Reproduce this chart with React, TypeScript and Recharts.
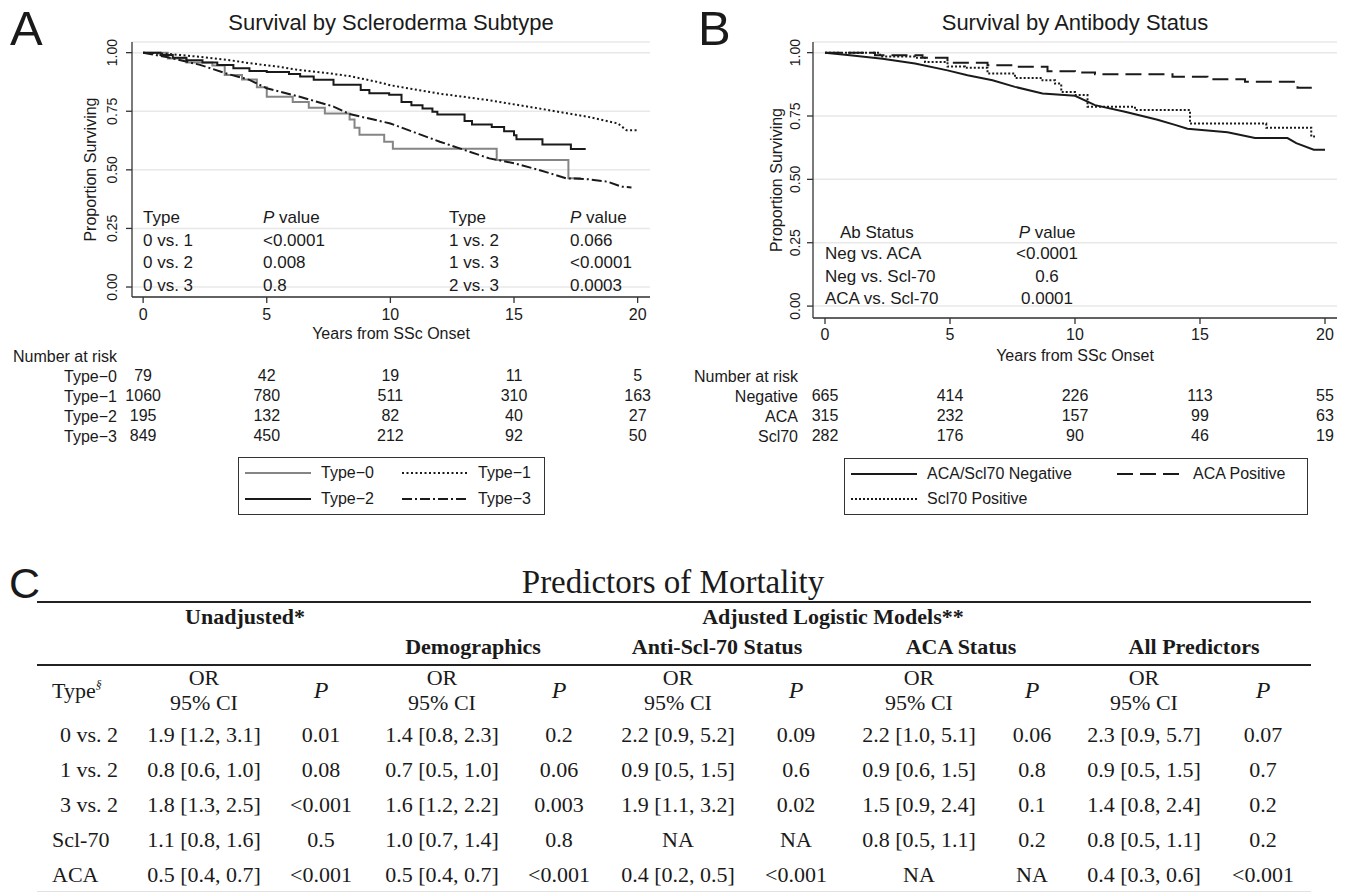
import React from "react";
import { LineChart, Line, XAxis, YAxis, CartesianGrid } from "recharts";

const SANS = '"Liberation Sans", Arial, Helvetica, sans-serif';
const SERIF = '"Liberation Serif", "Times New Roman", Times, serif';
const INK = "#1a1a1a";

// shared axis ticks
const yearTicks = [0, 5, 10, 15, 20];
const survTicks = [0, 0.25, 0.5, 0.75, 1];

// ---- Panel A: survival by scleroderma subtype, [years, proportion surviving]
const type0: [number, number][] = [
  [0, 1], [1.0, 0.975], [1.75, 0.958], [2.8, 0.945], [3.3, 0.905], [4.0, 0.885],
  [4.6, 0.852], [5.0, 0.812], [6.05, 0.79], [6.7, 0.765], [7.35, 0.74], [8.35, 0.715],
  [8.55, 0.68], [8.75, 0.65], [9.75, 0.62], [10.1, 0.59], [14.3, 0.542],
  [17.2, 0.464], [17.7, 0.464],
];
const type1: [number, number][] = [
  [0, 1], [1, 0.995], [2.3, 0.982], [3.5, 0.968], [4.3, 0.955], [5.5, 0.94],
  [6.3, 0.926], [7.5, 0.912], [8.35, 0.9], [9.4, 0.877], [10, 0.861], [12, 0.825],
  [14, 0.797], [16, 0.762], [18, 0.726], [19.2, 0.698], [19.55, 0.669], [19.97, 0.669],
];
const type2: [number, number][] = [
  [0, 1], [0.7, 0.99], [1.2, 0.978], [1.75, 0.968], [2.4, 0.958], [3.0, 0.947],
  [3.65, 0.934], [4.3, 0.922], [5.0, 0.918], [5.9, 0.909], [6.35, 0.898], [6.9, 0.884],
  [7.7, 0.863], [8.8, 0.841], [9.15, 0.827], [9.95, 0.82], [10.45, 0.79], [10.85, 0.776],
  [11.3, 0.762], [11.7, 0.748], [11.9, 0.736], [13.0, 0.708], [13.3, 0.694], [14.1, 0.683],
  [14.6, 0.665], [15.0, 0.648], [15.1, 0.631], [16.15, 0.608], [17.3, 0.589], [17.9, 0.589],
];
const type3: [number, number][] = [
  [0, 1], [1, 0.98], [2.3, 0.948], [3.4, 0.91], [4.3, 0.884], [5, 0.848], [6.3, 0.813],
  [7.7, 0.77], [8.35, 0.738], [10, 0.698], [12, 0.62], [14, 0.549], [15, 0.528],
  [16, 0.5], [17.1, 0.464], [18, 0.46], [18.8, 0.449], [19.35, 0.428], [19.75, 0.425],
];

const riskType0 = [79, 42, 19, 11, 5];
const riskType1 = [1060, 780, 511, 310, 163];
const riskType2 = [195, 132, 82, 40, 27];
const riskType3 = [849, 450, 212, 92, 50];

const compareLeftA = ["0 vs. 1", "0 vs. 2", "0 vs. 3"];
const pLeftA = ["<0.0001", "0.008", "0.8"];
const compareRightA = ["1 vs. 2", "1 vs. 3", "2 vs. 3"];
const pRightA = ["0.066", "<0.0001", "0.0003"];

// ---- Panel B: survival by antibody status
const negative: [number, number][] = [
  [0, 1], [1, 0.99], [2.3, 0.976], [3.6, 0.957], [4.9, 0.93], [5.7, 0.911], [6.7, 0.891],
  [7.6, 0.865], [8.7, 0.839], [10, 0.83], [10.8, 0.793], [12, 0.767], [13.3, 0.735],
  [14, 0.715], [14.5, 0.7], [16.1, 0.686], [17.2, 0.663], [18.5, 0.663], [18.85, 0.643],
  [19.55, 0.617], [20, 0.617],
];
const acaPos: [number, number][] = [
  [0, 1], [2, 0.99], [3.9, 0.98], [4.9, 0.96], [6.5, 0.95], [7.6, 0.944], [8.9, 0.927],
  [10, 0.922], [10.8, 0.915], [13.9, 0.905], [15.3, 0.895], [16.8, 0.885], [18.9, 0.861],
  [19.5, 0.861],
];
const sclPos: [number, number][] = [
  [0, 1], [2.2, 0.985], [3.6, 0.98], [4.0, 0.963], [4.9, 0.945], [5.6, 0.94], [6.5, 0.918],
  [7.6, 0.9], [8.7, 0.891], [9.2, 0.878], [9.45, 0.845], [10.0, 0.833], [10.5, 0.787],
  [12.4, 0.774], [14.6, 0.72], [17.65, 0.704], [19.45, 0.669], [19.6, 0.669],
];

const riskNegative = [665, 414, 226, 113, 55];
const riskAca = [315, 232, 157, 99, 63];
const riskScl = [282, 176, 90, 46, 19];

const compareB = ["Neg vs. ACA", "Neg vs. Scl-70", "ACA vs. Scl-70"];
const pB = ["<0.0001", "0.6", "0.0001"];

// ---- Panel C: predictors of mortality
const rowLabels = ["0 vs. 2", "1 vs. 2", "3 vs. 2", "Scl-70", "ACA"];
const unadjOR = ["1.9 [1.2, 3.1]", "0.8 [0.6, 1.0]", "1.8 [1.3, 2.5]", "1.1 [0.8, 1.6]", "0.5 [0.4, 0.7]"];
const unadjP = ["0.01", "0.08", "<0.001", "0.5", "<0.001"];
const demoOR = ["1.4 [0.8, 2.3]", "0.7 [0.5, 1.0]", "1.6 [1.2, 2.2]", "1.0 [0.7, 1.4]", "0.5 [0.4, 0.7]"];
const demoP = ["0.2", "0.06", "0.003", "0.8", "<0.001"];
const sclOR = ["2.2 [0.9, 5.2]", "0.9 [0.5, 1.5]", "1.9 [1.1, 3.2]", "NA", "0.4 [0.2, 0.5]"];
const sclP = ["0.09", "0.6", "0.02", "NA", "<0.001"];
const acaOR = ["2.2 [1.0, 5.1]", "0.9 [0.6, 1.5]", "1.5 [0.9, 2.4]", "0.8 [0.5, 1.1]", "NA"];
const acaP = ["0.06", "0.8", "0.1", "0.2", "NA"];
const allOR = ["2.3 [0.9, 5.7]", "0.9 [0.5, 1.5]", "1.4 [0.8, 2.4]", "0.8 [0.5, 1.1]", "0.4 [0.3, 0.6]"];
const allP = ["0.07", "0.7", "0.2", "0.2", "<0.001"];

type Series = { name: string; rows: [number, number][]; color: string; dash?: string; step: boolean };
type RiskRow = { label: string; counts: number[] };

const seriesA: Series[] = [
  { name: "Type−0", rows: type0, color: "#858585", step: true },
  { name: "Type−1", rows: type1, color: INK, dash: "2 2.5", step: false },
  { name: "Type−2", rows: type2, color: INK, step: true },
  { name: "Type−3", rows: type3, color: INK, dash: "10 3 2 3", step: false },
];
const seriesB: Series[] = [
  { name: "ACA/Scl70 Negative", rows: negative, color: INK, step: false },
  { name: "ACA Positive", rows: acaPos, color: INK, dash: "16 7", step: true },
  { name: "Scl70 Positive", rows: sclPos, color: INK, dash: "2 2", step: true },
];
const riskRowsA: RiskRow[] = [
  { label: "Type−0", counts: riskType0 },
  { label: "Type−1", counts: riskType1 },
  { label: "Type−2", counts: riskType2 },
  { label: "Type−3", counts: riskType3 },
];
const riskRowsB: RiskRow[] = [
  { label: "Negative", counts: riskNegative },
  { label: "ACA", counts: riskAca },
  { label: "Scl70", counts: riskScl },
];

// the at-risk axes read their positions from the tick years
const riskAxisData = yearTicks.map((t) => ({ t }));

const toPoints = (rows: [number, number][]) => rows.map(([t, s]) => ({ t, s }));
const axisStyle = { stroke: "#333", strokeWidth: 1.3 };
const tickFont = { fontSize: 16, fontFamily: SANS, fill: INK };

function T({ x, y, children, size = 17, font = SANS, anchor = "start", weight, italic, color = INK }: any) {
  const tx = anchor === "middle" ? "-50%" : anchor === "end" ? "-100%" : "0";
  return (
    <div
      style={{
        position: "absolute", left: x, top: y, transform: `translate(${tx}, -50%)`,
        fontSize: size, fontFamily: font, lineHeight: 1, whiteSpace: "nowrap",
        fontWeight: weight, fontStyle: italic ? "italic" : undefined, color,
      }}
    >
      {children}
    </div>
  );
}

const SurvTick = (props: any) => {
  const { x, y, payload } = props;
  return (
    <text x={x} y={y} transform={`rotate(-90 ${x} ${y})`} textAnchor="middle" fontSize={14} fontFamily={SANS} fill={INK}>
      {Number(payload.value).toFixed(2)}
    </text>
  );
};

function SurvivalChart(p: {
  left: number; width: number; plotTop: number; plotBottom: number; yAxisWidth: number;
  right: number; xDomain: [number, number]; yDomain: [number, number]; series: Series[];
  risk: RiskRow[]; mainHeight: number; tickGap: number; titleOffset: number;
  yTitleX: number; yTickGap: number;
}) {
  const height = p.plotBottom + p.mainHeight + 20 + 20 * p.risk.length;
  return (
    <div style={{ position: "absolute", left: p.left, top: 0 }}>
      <LineChart
        width={p.width} height={height} data={riskAxisData}
        margin={{ top: p.plotTop, right: p.right, bottom: 0, left: 0 }}
      >
        <CartesianGrid vertical={false} stroke="#e8e8e8" strokeWidth={1.5} />
        <XAxis
          type="number" dataKey="t" domain={p.xDomain} allowDataOverflow ticks={yearTicks} interval={0}
          height={p.mainHeight} tickMargin={p.tickGap} axisLine={axisStyle} tickLine={axisStyle} tick={tickFont}
          label={{ value: "Years from SSc Onset", position: "insideBottom", offset: p.titleOffset, ...tickFont }}
        />
        <XAxis
          xAxisId="risk0" type="number" dataKey="t" domain={p.xDomain} allowDataOverflow ticks={yearTicks}
          height={20} tick={false} axisLine={false} tickLine={false}
          label={{ value: "Number at risk", position: "left", offset: 15, ...tickFont }}
        />
        {p.risk.map((r, i) => (
          <XAxis
            key={r.label} xAxisId={`risk${i + 1}`} type="number" dataKey="t" domain={p.xDomain} allowDataOverflow
            ticks={yearTicks} interval={0} height={20} axisLine={false} tickLine={false} tickSize={0} tickMargin={4}
            tick={tickFont} tickFormatter={(v: number) => String(r.counts[yearTicks.indexOf(v)])}
            label={{ value: r.label, position: "left", offset: 15, ...tickFont }}
          />
        ))}
        <YAxis
          type="number" domain={p.yDomain} allowDataOverflow ticks={survTicks} interval={0}
          width={p.yAxisWidth} tickMargin={p.yTickGap} axisLine={axisStyle} tickLine={axisStyle} tick={<SurvTick />}
          label={{
            value: "Proportion Surviving", angle: -90, position: "insideLeft", offset: p.yTitleX,
            style: { textAnchor: "middle" }, ...tickFont,
          }}
        />
        {p.series.map((s) => (
          <Line
            key={s.name} data={toPoints(s.rows)} dataKey="s" name={s.name}
            type={s.step ? "stepAfter" : "linear"} stroke={s.color} strokeWidth={2}
            strokeDasharray={s.dash} dot={false} activeDot={false} isAnimationActive={false}
          />
        ))}
      </LineChart>
    </div>
  );
}

function LegendBox({ box, items }: { box: { x: number; y: number; w: number; h: number }; items: { s: Series; x: number; y: number }[] }) {
  return (
    <>
      <div style={{ position: "absolute", left: box.x, top: box.y, width: box.w, height: box.h, border: "1.3px solid #333", boxSizing: "border-box" }} />
      {items.map((it) => (
        <React.Fragment key={it.s.name}>
          <svg style={{ position: "absolute", left: it.x, top: it.y - 3 }} width={66} height={6}>
            <line x1={0} y1={3} x2={66} y2={3} stroke={it.s.color} strokeWidth={2} strokeDasharray={it.s.dash} />
          </svg>
          <T x={it.x + 76} y={it.y} size={16}>{it.s.name}</T>
        </React.Fragment>
      ))}
    </>
  );
}

const PValue = () => (<><i>P</i> value</>);

export default function App() {
  const orX = [204, 442, 678, 919, 1144];
  const pX = [321, 559, 796, 1032, 1263];
  const orCols = [unadjOR, demoOR, sclOR, acaOR, allOR];
  const pCols = [unadjP, demoP, sclP, acaP, allP];
  const rowY = [735, 770, 805, 840, 875];
  const rowsA = [239.5, 262, 284.5];
  const rowsB = [253, 276, 298];

  return (
    <div style={{ position: "absolute", left: 0, top: 0, width: 1349, height: 893, background: "#fff", overflow: "hidden" }}>
      {/* Panel A */}
      <SurvivalChart
        left={0} width={680} plotTop={42} plotBottom={297} yAxisWidth={132} right={30}
        xDomain={[-0.45, 20.5]} yDomain={[-0.0426, 1.0455]} series={seriesA} risk={riskRowsA}
        mainHeight={49} tickGap={6} titleOffset={7} yTitleX={90} yTickGap={9}
      />
      <T x={10} y={28} size={49}>A</T>
      <T x={391} y={23} size={22} anchor="middle">Survival by Scleroderma Subtype</T>
      <T x={143} y={217}>Type</T>
      <T x={263} y={217}><PValue /></T>
      <T x={449} y={217}>Type</T>
      <T x={570} y={217}><PValue /></T>
      {rowsA.map((y, i) => (
        <React.Fragment key={y}>
          <T x={143} y={y}>{compareLeftA[i]}</T>
          <T x={263} y={y}>{pLeftA[i]}</T>
          <T x={449} y={y}>{compareRightA[i]}</T>
          <T x={570} y={y}>{pRightA[i]}</T>
        </React.Fragment>
      ))}
      <LegendBox
        box={{ x: 238, y: 457, w: 307, h: 58 }}
        items={[
          { s: seriesA[0], x: 245, y: 473 }, { s: seriesA[1], x: 402, y: 473 },
          { s: seriesA[2], x: 245, y: 499 }, { s: seriesA[3], x: 402, y: 499 },
        ]}
      />

      {/* Panel B */}
      <SurvivalChart
        left={680} width={669} plotTop={42} plotBottom={318} yAxisWidth={133} right={12}
        xDomain={[-0.48, 20.48]} yDomain={[-0.047, 1.042]} series={seriesB} risk={riskRowsB}
        mainHeight={48} tickGap={5} titleOffset={5} yTitleX={96} yTickGap={7}
      />
      <T x={698} y={28} size={49}>B</T>
      <T x={1075} y={23} size={22} anchor="middle">Survival by Antibody Status</T>
      <T x={840} y={232}>Ab Status</T>
      <T x={1047} y={232} anchor="middle"><PValue /></T>
      {rowsB.map((y, i) => (
        <React.Fragment key={y}>
          <T x={825} y={y}>{compareB[i]}</T>
          <T x={1047} y={y} anchor="middle">{pB[i]}</T>
        </React.Fragment>
      ))}
      <LegendBox
        box={{ x: 844, y: 458, w: 464, h: 57 }}
        items={[
          { s: seriesB[0], x: 851, y: 474 }, { s: seriesB[1], x: 1117, y: 474 },
          { s: seriesB[2], x: 851, y: 499 },
        ]}
      />

      {/* Panel C */}
      <T x={9} y={583} size={43}>C</T>
      <T x={673} y={582} size={33} font={SERIF} anchor="middle">Predictors of Mortality</T>
      <div style={{ position: "absolute", left: 37, top: 601, width: 1274, height: 2, background: "#222" }} />
      <div style={{ position: "absolute", left: 37, top: 664, width: 1274, height: 2, background: "#222" }} />
      <div style={{ position: "absolute", left: 37, top: 891, width: 1274, height: 1, background: "#e2e2e2" }} />
      <T x={245} y={617} size={22} font={SERIF} weight="bold" anchor="middle">Unadjusted*</T>
      <T x={833} y={617} size={22} font={SERIF} weight="bold" anchor="middle">Adjusted Logistic Models**</T>
      <T x={473} y={647} size={22} font={SERIF} weight="bold" anchor="middle">Demographics</T>
      <T x={717} y={647} size={22} font={SERIF} weight="bold" anchor="middle">Anti-Scl-70 Status</T>
      <T x={961} y={647} size={22} font={SERIF} weight="bold" anchor="middle">ACA Status</T>
      <T x={1194} y={647} size={22} font={SERIF} weight="bold" anchor="middle">All Predictors</T>
      <T x={52} y={690} size={22} font={SERIF}>
        Type<span style={{ fontSize: 12, fontStyle: "italic", verticalAlign: "9px" }}>§</span>
      </T>
      {orX.map((x, c) => (
        <React.Fragment key={x}>
          <T x={x} y={678} size={22} font={SERIF} anchor="middle">OR</T>
          <T x={x} y={703} size={22} font={SERIF} anchor="middle">95% CI</T>
          <T x={pX[c]} y={690} size={24} font={SERIF} anchor="middle" italic>P</T>
          {rowY.map((y, r) => (
            <React.Fragment key={y}>
              <T x={x} y={y} size={22} font={SERIF} anchor="middle">{orCols[c][r]}</T>
              <T x={pX[c]} y={y} size={22} font={SERIF} anchor="middle">{pCols[c][r]}</T>
            </React.Fragment>
          ))}
        </React.Fragment>
      ))}
      {rowY.map((y, r) =>
        rowLabels[r].includes("vs.") ? (
          <T key={y} x={118} y={y} size={22} font={SERIF} anchor="end">{rowLabels[r]}</T>
        ) : (
          <T key={y} x={52} y={y} size={22} font={SERIF}>{rowLabels[r]}</T>
        )
      )}
    </div>
  );
}
